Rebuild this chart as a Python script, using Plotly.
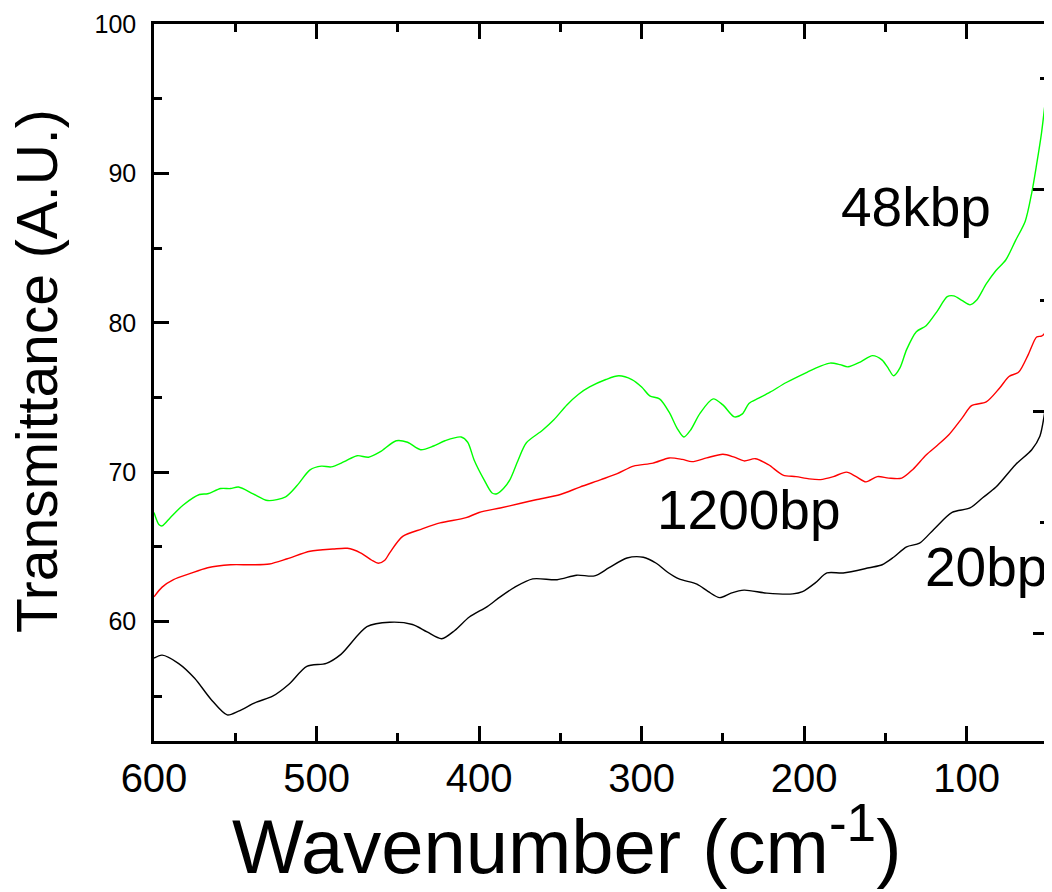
import plotly.graph_objects as go

# Wavenumber (cm^-1) and transmittance values
wn_20bp = [600, 595, 585, 575, 565, 555, 548, 537, 527, 517, 506, 494, 485, 469, 455,
           441, 432, 423, 415, 406, 395, 387, 378, 367, 352, 340, 329, 320, 309, 299,
           291, 284, 277, 266, 259, 252, 245, 237, 223, 207, 201, 193, 186, 176, 160,
           152, 145, 137, 129, 120, 109, 98, 90, 82, 70, 60, 55, 52, 50]
t_20bp = [57.55, 57.75, 57.2, 56.2, 54.8, 53.75, 54.0, 54.6, 55.0, 55.8, 57.0, 57.2, 57.8, 59.65, 59.95,
          59.8, 59.3, 58.85, 59.4, 60.3, 61.0, 61.65, 62.3, 62.85, 62.8, 63.1, 63.05, 63.6, 64.25, 64.3,
          63.9, 63.3, 62.85, 62.5, 62.0, 61.6, 61.9, 62.1, 61.9, 61.85, 62.0, 62.6, 63.25, 63.25, 63.6,
          63.8, 64.3, 65.0, 65.25, 66.2, 67.3, 67.6, 68.3, 69.0, 70.5, 71.5, 72.4, 74.0, 75.3]

wn_1200bp = [600, 595, 588, 578, 567, 553, 540, 529, 518, 504, 490, 481, 473, 466, 462,
             458, 455, 447, 435, 424, 408, 400, 387, 375, 365, 350, 338, 325, 315, 305,
             293, 283, 275, 269, 260, 250, 243, 237, 230, 222, 213, 205, 197, 190, 182,
             174, 168, 162, 155, 148, 140, 133, 125, 118, 111, 103, 97, 88, 80, 74,
             68, 62, 57, 54, 52, 50]
t_1200bp = [61.65, 62.3, 62.8, 63.2, 63.6, 63.8, 63.8, 63.85, 64.2, 64.7, 64.85, 64.9, 64.6, 64.1, 63.9,
            64.1, 64.6, 65.7, 66.2, 66.6, 66.95, 67.3, 67.6, 67.9, 68.15, 68.5, 69.0, 69.5, 69.9, 70.4,
            70.6, 70.95, 70.85, 70.7, 70.95, 71.2, 71.0, 70.75, 70.9, 70.5, 69.8, 69.7, 69.55, 69.5, 69.7,
            70.0, 69.7, 69.35, 69.7, 69.6, 69.6, 70.2, 71.15, 71.8, 72.5, 73.6, 74.45, 74.7, 75.6, 76.4,
            76.7, 77.9, 79.05, 79.1, 79.3, 80.1]

wn_48kbp = [600, 597, 595, 590, 582, 572, 567, 559, 553, 548, 539, 530, 519, 512, 504,
            497, 491, 483, 475, 468, 461, 451, 444, 436, 428, 421, 411, 407, 403, 397,
            392, 389, 385, 381, 376, 371, 361, 354, 346, 339, 332, 322, 314, 306, 300,
            295, 289, 283, 278, 274, 270, 264, 256, 250, 243, 238, 234, 228, 221, 211,
            198, 190, 184, 178, 173, 165, 158, 152, 148, 145, 141, 137, 131, 125, 118,
            112, 108, 103, 98, 94, 88, 82, 76, 70, 64, 60, 57, 54, 52, 50]
t_48kbp = [67.3, 66.5, 66.4, 66.95, 67.8, 68.5, 68.55, 68.9, 68.9, 69.0, 68.55, 68.1, 68.35, 69.1, 70.15,
           70.4, 70.35, 70.7, 71.1, 71.0, 71.35, 72.1, 72.0, 71.5, 71.75, 72.1, 72.35, 72.0, 70.8, 69.5,
           68.6, 68.55, 68.9, 69.5, 70.8, 71.95, 72.8, 73.5, 74.5, 75.2, 75.7, 76.2, 76.45, 76.2, 75.7,
           75.1, 74.9, 74.0, 72.9, 72.35, 72.8, 73.95, 74.9, 74.5, 73.7, 73.9, 74.6, 74.95, 75.35, 76.0,
           76.7, 77.1, 77.3, 77.2, 77.05, 77.4, 77.8, 77.5, 76.9, 76.45, 77.0, 78.2, 79.4, 79.8, 80.8,
           81.75, 81.8, 81.5, 81.2, 81.5, 82.6, 83.5, 84.2, 85.5, 86.8, 88.7, 90.6, 92.7, 94.5, 96.5]

series_names = ["20bp", "1200bp", "48kbp"]
series_colors = ["#000000", "#ff0000", "#00ff00"]

# label positions (data coords: wavenumber, transmittance)
label_text = ["20bp", "1200bp", "48kbp"]
label_x = [88.3, 233.7, 131.0]
label_y = [63.66, 67.48, 87.76]

x_ticks = [600, 500, 400, 300, 200, 100]
y_ticks = [60, 70, 80, 90, 100]

FONT = "Liberation Sans, Arial, sans-serif"

fig = go.Figure()
for wn, t, name, col in zip([wn_20bp, wn_1200bp, wn_48kbp],
                            [t_20bp, t_1200bp, t_48kbp],
                            series_names, series_colors):
    fig.add_trace(go.Scatter(x=wn, y=t, mode="lines", name=name,
                             line=dict(color=col, width=1.4, shape="spline", smoothing=0.8),
                             showlegend=False))

# empty trace so that the right-hand frame axis is drawn
fig.add_trace(go.Scatter(x=[], y=[], yaxis="y2", mode="lines", showlegend=False,
                         hoverinfo="skip"))

for txt, lx, ly in zip(label_text, label_x, label_y):
    fig.add_annotation(x=lx, y=ly, xref="x", yref="y", text=txt, showarrow=False,
                       xanchor="center", yanchor="middle",
                       font=dict(family=FONT, size=55, color="black"))

# axis titles as annotations for precise placement
fig.add_annotation(x=(566 - 154) / 894, y=(741 - 840.5) / 717, xref="paper", yref="paper",
                   text="Wavenumber (cm<sup>-1</sup>)", showarrow=False,
                   xanchor="center", yanchor="middle",
                   font=dict(family=FONT, size=76, color="black"))
fig.add_annotation(x=(37 - 154) / 894, y=(741 - 371) / 717, xref="paper", yref="paper",
                   text="Transmittance (A.U.)", showarrow=False, textangle=-90,
                   xanchor="center", yanchor="middle",
                   font=dict(family=FONT, size=57, color="black"))

fig.update_layout(
    width=1044, height=884,
    margin=dict(l=146, r=4, t=16, b=151, autoexpand=False),
    paper_bgcolor="white", plot_bgcolor="white",
    font=dict(family=FONT, color="black"),
    xaxis=dict(range=[600, 50], tickvals=x_ticks, ticktext=[str(v) for v in x_ticks],
               ticks="inside", ticklen=15, tickwidth=2.5, tickcolor="black",
               showline=True, linewidth=2.5, linecolor="black", mirror="ticks",
               showgrid=False, zeroline=False,
               tickfont=dict(family=FONT, size=40, color="black"),
               minor=dict(dtick=50, tick0=0, ticks="inside", ticklen=8, tickwidth=2.5,
                          tickcolor="black", showgrid=False)),
    yaxis=dict(range=[52, 100], tickvals=y_ticks, ticktext=[str(v) for v in y_ticks],
               ticks="inside", ticklen=15, tickwidth=2.5, tickcolor="black",
               showline=True, linewidth=2.5, linecolor="black", mirror=False,
               showgrid=False, zeroline=False, ticklabelstandoff=10,
               tickfont=dict(family=FONT, size=25, color="black"),
               minor=dict(dtick=5, tick0=0, ticks="inside", ticklen=8, tickwidth=2.5,
                          tickcolor="black", showgrid=False)),
    yaxis2=dict(overlaying="y", side="right", anchor="x", range=[-4.86, 27.44],
                dtick=10, tick0=0, showticklabels=False,
                ticks="inside", ticklen=15, tickwidth=2.5, tickcolor="black",
                showline=True, linewidth=2.5, linecolor="black",
                showgrid=False, zeroline=False,
                minor=dict(dtick=5, tick0=0, ticks="inside", ticklen=8, tickwidth=2.5,
                           tickcolor="black", showgrid=False)),
)

fig.write_html("out.html")
